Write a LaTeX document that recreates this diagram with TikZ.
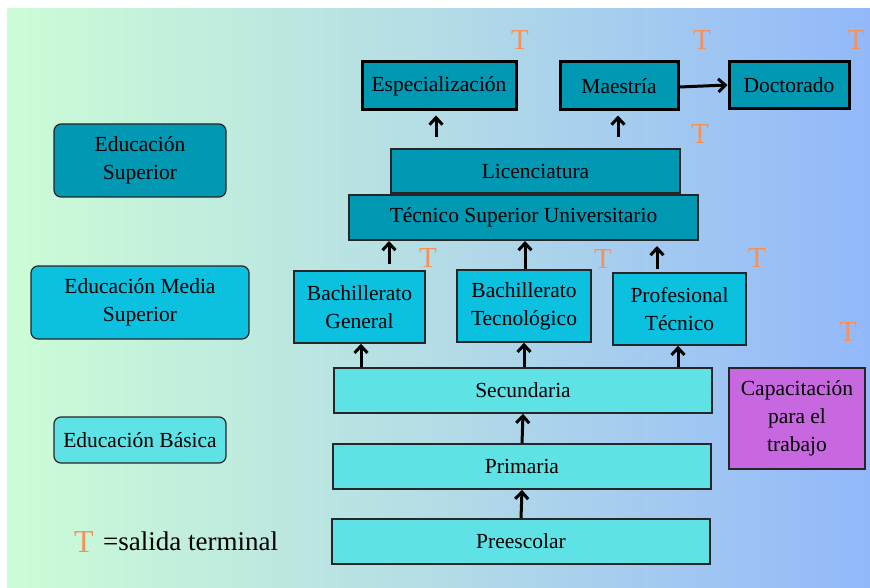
\documentclass[tikz,border=0pt]{standalone}
\usepackage{fontspec}
\setmainfont{Liberation Serif}
\usetikzlibrary{arrows.meta,calc}
\definecolor{edsup}{HTML}{0098B2}
\definecolor{edmed}{HTML}{0CC0E0}
\definecolor{edbas}{HTML}{5EE2E6}
\definecolor{edcap}{HTML}{C868E0}
\definecolor{edterm}{HTML}{F5915A}
\definecolor{bgleft}{HTML}{CCFCD6}
\definecolor{bgmid}{HTML}{B4DCE6}
\definecolor{bgright}{HTML}{92B8FA}
\tikzset{
  box/.style={draw=black!85, line width=1.5pt, align=center, inner sep=2pt},
  topbox/.style={box, draw=black, line width=3pt, fill=edsup},
  lvl/.style={draw=black!85, line width=1.2pt, rounded corners=7pt, align=center, inner sep=2pt},
  term/.style={text=edterm, inner sep=0pt, font=\fontsize{29}{29}\selectfont},
  arr/.style={-{Straight Barb[length=7pt, width=13pt]}, line width=3pt, black},
}

\begin{document}
\begin{tikzpicture}[x=1pt, y=-1pt, font=\fontsize{21.5}{28}\selectfont]
  \useasboundingbox (0,0) rectangle (870,588);
  \fill[left color=bgleft, right color=bgright, middle color=bgmid] (7,9) rectangle (870,588);

  \node[lvl, fill=edsup, minimum width=172pt, minimum height=73pt] (esup) at (140,160.5) {Educación\\Superior};
  \node[lvl, fill=edmed, minimum width=218pt, minimum height=73pt] (emed) at (140,302.5) {Educación Media\\Superior};
  \node[lvl, fill=edbas, minimum width=172pt, minimum height=46pt] (ebas) at (140,440) {Educación Básica};

  \node[topbox, minimum width=154pt, minimum height=48pt] (esp) at (439,86) {Especialización};
  \node[topbox, minimum width=118pt, minimum height=48pt] (mae) at (619,86) {Maestría};
  \node[topbox, minimum width=120pt, minimum height=47pt] (doc) at (789,85) {Doctorado};
  \node[box, line width=2pt, fill=edsup, minimum width=289pt, minimum height=44pt] (lic) at (535.5,171) {Licenciatura};
  \node[box, line width=2pt, fill=edsup, minimum width=349pt, minimum height=45pt] (tsu) at (523.5,217.5) {Técnico Superior Universitario};
  \node[box, fill=edmed, minimum width=131pt, minimum height=72pt] (bgen) at (359.5,307) {Bachillerato\\General};
  \node[box, fill=edmed, minimum width=134pt, minimum height=72pt] (btec) at (524,306) {Bachillerato\\Tecnológico};
  \node[box, fill=edmed, minimum width=133pt, minimum height=72pt] (ptec) at (679.5,309) {Profesional\\Técnico};
  \node[box, fill=edbas, minimum width=378pt, minimum height=45pt] (sec) at (523,390.5) {Secundaria};
  \node[box, fill=edbas, minimum width=378pt, minimum height=45pt] (pri) at (522,466.5) {Primaria};
  \node[box, fill=edbas, minimum width=378pt, minimum height=45pt] (pre) at (521,541.5) {Preescolar};
  \node[box, fill=edcap, minimum width=136pt, minimum height=101pt] (cap) at (797,418.5) {Capacitación\\para el\\trabajo};

  \draw[arr] (pre.north) -- (pri.south);
  \draw[arr] (pri.north) -- (sec.south);
  \draw[arr] ([xshift=1.5pt]bgen.south |- sec.north) -- ([xshift=1.5pt]bgen.south);
  \draw[arr] (btec.south |- sec.north) -- (btec.south);
  \draw[arr] ([xshift=-1.5pt]ptec.south |- sec.north) -- ([xshift=-1.5pt]ptec.south);
  \draw[arr, shorten <=6pt] ([xshift=29.5pt]bgen.north) -- ([xshift=29.5pt]bgen.north |- tsu.south);
  \draw[arr] ([xshift=1pt]btec.north) -- ([xshift=1pt]btec.north |- tsu.south);
  \draw[arr, shorten <=3pt, shorten >=5pt] ([xshift=-22.5pt]ptec.north) -- ([xshift=-22.5pt]ptec.north |- tsu.south);
  \draw[arr, shorten <=11pt, shorten >=4pt] ([xshift=-3pt]esp.south |- lic.north) -- ([xshift=-3pt]esp.south);
  \draw[arr, shorten <=11pt, shorten >=4pt] ([xshift=-1pt]mae.south |- lic.north) -- ([xshift=-1pt]mae.south);
  \draw[arr] ([yshift=-1pt]mae.east) -- (doc.west);

  \node[term] (tesp) at (520,40) {T};
  \node[term] (tmae) at (702,40) {T};
  \node[term] (tdoc) at (856,40) {T};
  \node[term] (tlic) at (700,134) {T};
  \node[term] (tbgen) at (428,258) {T};
  \node[term] (tbtec) at (603,259) {T};
  \node[term] (tptec) at (757,258) {T};
  \node[term] (tcap) at (848,332) {T};

  \node[term, font=\fontsize{32}{32}\selectfont] (tleg) at (84,542) {T};
  \node[anchor=west, inner sep=0pt, font=\fontsize{27}{27}\selectfont] (leg) at (103,541) {=salida terminal};
\end{tikzpicture}
\end{document}
